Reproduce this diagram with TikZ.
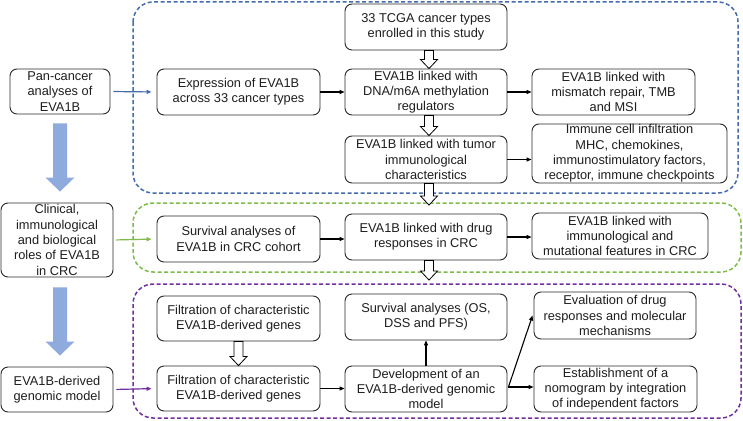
\documentclass[tikz,border=0pt]{standalone}
\usepackage{fontspec}
\setmainfont{Liberation Sans}
\usetikzlibrary{calc,arrows.meta}
\definecolor{cblue}{RGB}{70,108,172}
\definecolor{cgreen}{RGB}{128,186,76}
\definecolor{cpurple}{RGB}{112,48,160}
\definecolor{bigarrow}{RGB}{143,170,220}
\definecolor{boxline}{RGB}{40,40,40}
\definecolor{txt}{RGB}{30,30,30}
\newcommand{\hollowarr}[2]{\draw[hollow] ($#1+(-4.5,0)$) -- ($#1+(4.5,0)$) -- ($#2+(4.5,-9)$) -- ($#2+(8.5,-9)$) -- #2 -- ($#2+(-8.5,-9)$) -- ($#2+(-4.5,-9)$) -- cycle;}
\newcommand{\bigarr}[2]{\fill[bigarrow] ($#1+(-7,0)$) -- ($#1+(7,0)$) -- ($#2+(7,-14)$) -- ($#2+(14.5,-14)$) -- #2 -- ($#2+(-14.5,-14)$) -- ($#2+(-7,-14)$) -- cycle;}
\begin{document}
\begin{tikzpicture}[x=1pt,y=-1pt,
  box/.style={draw=boxline, line width=0.9pt, rounded corners=7pt, align=center, inner sep=0pt,
    font=\fontsize{12.8}{15.3}\selectfont, text=txt},
  container/.style={line width=1.5pt, rounded corners=20pt, dash pattern=on 4pt off 2.5pt},
  conn/.style={line width=1.1pt, draw=black, -{Triangle[length=5pt,width=4pt]}},
  sideconn/.style={line width=1.2pt, -{Triangle[length=5pt,width=4pt]}, shorten <=3pt, shorten >=5pt},
  hollow/.style={draw=black, line width=0.8pt, fill=white, line join=miter}]
\useasboundingbox (0,0) rectangle (743,420);
\fill[white] (0,0) rectangle (743,420);
% containers
\draw[container, draw=cblue] (133,2) rectangle (738,193);
\draw[container, draw=cgreen] (133,203) rectangle (741,272);
\draw[container, draw=cpurple] (133,284) rectangle (741,418);
% left column
\node[box, minimum width=100, minimum height=45] (pan) at (60,91.5) {Pan-cancer\\analyses of\\EVA1B};
\node[box, minimum width=112, minimum height=74] (clin) at (57,240) {Clinical,\\immunological\\and biological\\roles of EVA1B\\in CRC};
\node[box, minimum width=112, minimum height=45] (model) at (57,389.5) {EVA1B-derived\\genomic model};
% blue section
\node[box, minimum width=163, minimum height=46] (expr) at (238.5,92) {Expression of EVA1B\\across 33 cancer types};
\node[box, minimum width=162, minimum height=46] (tcga) at (426,27) {33 TCGA cancer types\\enrolled in this study};
\node[box, minimum width=162, minimum height=46] (dna) at (426,92) {EVA1B linked with\\DNA/m6A methylation\\regulators};
\node[box, minimum width=162, minimum height=47] (tumor) at (426,159.5) {EVA1B linked with tumor\\immunological\\characteristics};
\node[box, minimum width=163, minimum height=46] (mmr) at (613.5,92) {EVA1B linked with\\mismatch repair, TMB\\and MSI};
\node[box, minimum width=195, minimum height=59] (immune) at (629.5,153.5) {Immune cell infiltration\\MHC, chemokines,\\immunostimulatory factors,\\receptor, immune checkpoints};
% green section
\node[box, minimum width=163, minimum height=46] (survcrc) at (238.5,239) {Survival analyses of\\EVA1B in CRC cohort};
\node[box, minimum width=162, minimum height=46] (drug) at (426,237) {EVA1B linked with drug\\responses in CRC};
\node[box, minimum width=176, minimum height=46] (immfeat) at (620,236) {EVA1B linked with\\immunological and\\mutational features in CRC};
% purple section
\node[box, minimum width=163, minimum height=45] (filt1) at (238.5,318.5) {Filtration of characteristic\\EVA1B-derived genes};
\node[box, minimum width=163, minimum height=45] (filt2) at (238.5,388.5) {Filtration of characteristic\\EVA1B-derived genes};
\node[box, minimum width=162, minimum height=46] (survos) at (426,317) {Survival analyses (OS,\\DSS and PFS)};
\node[box, minimum width=162, minimum height=46] (dev) at (426,389) {Development of an\\EVA1B-derived genomic\\model};
\node[box, minimum width=162, minimum height=47] (evalu) at (615,315.5) {Evaluation of drug\\responses and molecular\\mechanisms};
\node[box, minimum width=163, minimum height=46] (estab) at (615.5,389) {Establishment of a\\nomogram by integration\\of independent factors};
% big arrows
\bigarr{($(pan.south)+(0,9)$)}{($(pan.south |- clin.north)+(0,-11)$)}
\bigarr{($(pan.south |- clin.south)+(0,10)$)}{($(pan.south |- model.north)+(0,-11)$)}
% colored side arrows
\draw[sideconn, draw=cblue, fill=cblue] (pan.east) -- (expr.west);
\draw[sideconn, draw=cgreen, fill=cgreen] (clin.east) -- (survcrc.west);
\draw[sideconn, draw=cpurple, fill=cpurple] (model.east) -- (filt2.west);
% black connectors
\draw[conn] (expr.east) -- (dna.west);
\draw[conn] (dna.east) -- (mmr.west);
\draw[conn] (tumor.east) -- (tumor.east -| immune.west);
\draw[conn] (survcrc.east) -- (survcrc.east -| drug.west);
\draw[conn] (drug.east) -- (drug.east -| immfeat.west);
\draw[conn] (filt2.east) -- (filt2.east -| dev.west);
\draw[conn] (dev.north) -- (survos.south);
\coordinate (fork) at ($(dev.east)+(1,-2)$);
\draw[conn] (fork) -- ($(evalu.west)+(-1,0)$);
\draw[conn] (fork) -- (fork -| estab.west);
% hollow arrows
\coordinate (h1) at (429,205);
\coordinate (h2) at (429,280);
\hollowarr{([xshift=3pt]tcga.south)}{([xshift=3pt]dna.north)}
\hollowarr{([xshift=3pt]dna.south)}{([xshift=3pt]tumor.north)}
\hollowarr{([xshift=3pt]tumor.south)}{(h1)}
\hollowarr{([xshift=3pt]drug.south)}{(h2)}
\hollowarr{(filt1.south)}{(filt2.north)}
\end{tikzpicture}
\end{document}
